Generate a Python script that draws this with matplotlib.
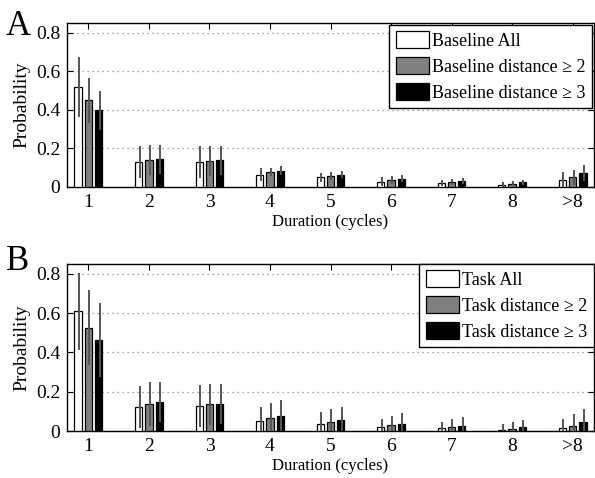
import numpy as np
import matplotlib.pyplot as plt

plt.rcParams['font.family'] = ['Liberation Serif', 'DejaVu Serif']

durations = ['1', '2', '3', '4', '5', '6', '7', '8', '>8']

# panel A - baseline
base_all = [0.518, 0.129, 0.129, 0.064, 0.049, 0.026, 0.019, 0.012, 0.035]
base_all_err = [0.157, 0.085, 0.083, 0.032, 0.024, 0.023, 0.016, 0.012, 0.040]
base_d2 = [0.449, 0.139, 0.136, 0.077, 0.056, 0.035, 0.026, 0.017, 0.049]
base_d2_err = [0.118, 0.078, 0.078, 0.023, 0.022, 0.019, 0.014, 0.013, 0.041]
base_d3 = [0.398, 0.143, 0.139, 0.083, 0.064, 0.042, 0.031, 0.023, 0.070]
base_d3_err = [0.101, 0.074, 0.075, 0.023, 0.019, 0.019, 0.016, 0.012, 0.041]

# panel B - task
task_all = [0.608, 0.122, 0.126, 0.053, 0.037, 0.020, 0.014, 0.008, 0.017]
task_all_err = [0.198, 0.107, 0.107, 0.071, 0.060, 0.043, 0.034, 0.028, 0.046]
task_d2 = [0.525, 0.139, 0.136, 0.066, 0.046, 0.029, 0.020, 0.012, 0.027]
task_d2_err = [0.190, 0.111, 0.105, 0.078, 0.066, 0.049, 0.043, 0.036, 0.058]
task_d3 = [0.463, 0.148, 0.139, 0.078, 0.058, 0.037, 0.027, 0.019, 0.044]
task_d3_err = [0.186, 0.102, 0.102, 0.080, 0.066, 0.056, 0.046, 0.040, 0.070]

fills = ['white', '#808080', 'black']


def draw_panel(ax, series, errs, names, legpad):
    x = np.arange(1, len(durations) + 1)
    offs = [-0.17, 0.0, 0.17]
    for k in range(3):
        ax.bar(x + offs[k], series[k], width=0.12, color=fills[k],
               edgecolor='black', linewidth=0.9, zorder=3, label=names[k])
        ax.errorbar(x + offs[k] + 0.015, series[k], yerr=[errs[k], errs[k]],
                    fmt='none', ecolor='#555555', elinewidth=1.4, capsize=0, zorder=4)
    ax.set_xlim(0.65, 9.35)
    ax.set_ylim(0, 0.85)
    ax.set_xticks(x)
    ax.set_xticklabels(durations)
    ax.set_yticks([0, 0.2, 0.4, 0.6, 0.8])
    ax.set_yticklabels(['0', '0.2', '0.4', '0.6', '0.8'])
    ax.yaxis.grid(True, linestyle=(0, (1, 3)), color='#888888', linewidth=0.9, zorder=0)
    ax.tick_params(direction='in', top=True, right=True, labelsize=14, length=4, width=0.8, pad=5)
    for s in ax.spines.values():
        s.set_linewidth(1.0)
    ax.set_ylabel('Probability', fontsize=14, labelpad=4)
    ax.set_xlabel('Duration (cycles)', fontsize=12, labelpad=2)
    leg = ax.legend(loc='upper right', fontsize=13, fancybox=False, framealpha=1,
                    edgecolor='black', handlelength=1.85, handleheight=1.05,
                    handletextpad=0.17, borderpad=0.35, labelspacing=0.42,
                    borderaxespad=legpad)
    leg.get_frame().set_linewidth(1.0)


fig = plt.figure(figsize=(5.95, 4.78), dpi=100)
axA = fig.add_axes([0.113, 0.609, 0.885, 0.343])
axB = fig.add_axes([0.113, 0.098, 0.885, 0.35])

draw_panel(axA, [base_all, base_d2, base_d3], [base_all_err, base_d2_err, base_d3_err],
           ['Baseline All', 'Baseline distance \u2265 2', 'Baseline distance \u2265 3'], 0.1)
draw_panel(axB, [task_all, task_d2, task_d3], [task_all_err, task_d2_err, task_d3_err],
           ['Task All', 'Task distance \u2265 2', 'Task distance \u2265 3'], 0.0)

fig.text(0.010, 0.927, 'A', fontsize=25, va='baseline', ha='left')
fig.text(0.010, 0.435, 'B', fontsize=25, va='baseline', ha='left')

fig.savefig('out.png', dpi=100)
